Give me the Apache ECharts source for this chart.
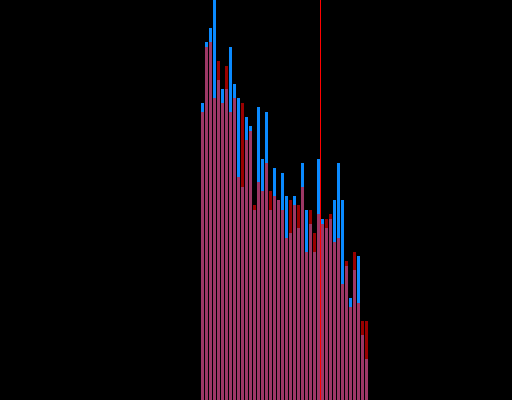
<!DOCTYPE html>
<html>
<head>
<meta charset="utf-8">
<script src="https://cdn.jsdelivr.net/npm/echarts@6/dist/echarts.min.js"></script>
<style>html,body{margin:0;padding:0;background:#000;}#c{width:512px;height:400px;}</style>
</head>
<body>
<div id="c"></div>
<script>
var indices = [0,1,2,3,4,5,6,7,8,9,10,11,12,13,14,15,16,17,18,19,20,21,22,23,24,25,26,27,28,29,30,31,32,33,34,35,36,37,38,39,40,41];
var blueValues = [297,358,372,400,320,311,311,353,316,302,213,283,274,190,293,241,288,190,232,200,227,204,167,204,172,237,190,176,148,241,181,172,181,200,237,200,134,102,130,144,65,41];
var redValues = [288,353,358,302,339,297,334,288,302,223,297,260,269,195,218,209,237,209,204,200,190,162,200,195,195,213,148,190,167,186,176,181,186,158,162,116,139,93,148,97,79,79];
var markX = 29.5;

var chart = echarts.init(document.getElementById('c'), null, {renderer: 'canvas'});
chart.setOption({
  backgroundColor: '#000',
  animation: false,
  grid: {left: 200.5, width: 168, top: 0, bottom: 0},
  xAxis: {type: 'value', min: -0.5, max: 41.5, show: false},
  yAxis: {type: 'value', min: 0, max: 400, show: false},
  series: [
    {
      type: 'bar', barWidth: 3, barGap: '-100%',
      data: indices.map(function (i) { return [i, blueValues[i]]; }),
      itemStyle: {color: '#0a8aff'}
    },
    {
      type: 'bar', barWidth: 3, barGap: '-100%',
      data: indices.map(function (i) { return [i, redValues[i]]; }),
      itemStyle: {color: 'rgba(255,0,0,0.6)'},
      markLine: {
        silent: true, symbol: 'none', label: {show: false},
        lineStyle: {color: '#ff0000', width: 1, type: 'solid', opacity: 1},
        data: [{xAxis: markX}]
      }
    }
  ]
});
</script>
</body>
</html>
